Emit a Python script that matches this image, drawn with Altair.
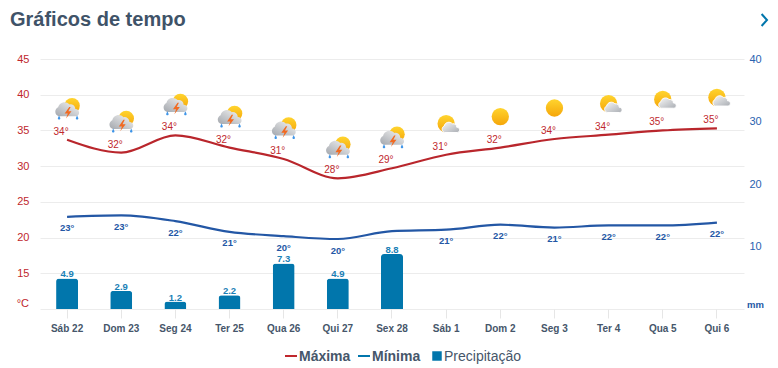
import altair as alt
import pandas as pd

days = ["Sáb 22","Dom 23","Seg 24","Ter 25","Qua 26","Qui 27","Sex 28","Sáb 1","Dom 2","Seg 3","Ter 4","Qua 5","Qui 6"]
max_curve = [33.7,31.9,34.3,32.6,31.0,28.3,29.7,31.6,32.6,33.8,34.4,35.0,35.3]
min_curve = [22.9,23.1,22.3,20.8,20.2,19.8,20.9,21.1,21.8,21.4,21.7,21.7,22.1]
max_labels = ["34°","32°","34°","32°","31°","28°","29°","31°","32°","34°","34°","35°","35°"]
min_labels = ["23°","23°","22°","21°","20°","20°","","21°","22°","21°","22°","22°","22°"]
rain = [4.9,2.9,1.2,2.2,7.3,4.9,8.8,None,None,None,None,None,None]
icons = ["storm"]*7 + ["partly","sun","sun","partly","partly","partly"]

FONT = "Liberation Sans"
RED = "#c0272d"
BLUE = "#2357a5"
BAR = "#0176ac"
GREY = "#46566a"

df = pd.DataFrame(dict(day=days, hi=max_curve, lo=min_curve, hil=max_labels, lol=min_labels, rain=rain, icon=icons))
df["rainl"] = df["rain"].map(lambda v: "" if pd.isna(v) else f"{v:.1f}")

X = alt.X("day:N", sort=days, title=None,
          scale=alt.Scale(paddingInner=0.59, paddingOuter=0.295),
          axis=alt.Axis(labelAngle=0, labelFont=FONT, labelFontSize=10, labelFontWeight="bold", labelColor=GREY,
                        tickColor="#e6e6e6", tickSize=9, domain=False, labelPadding=5, grid=False))
TS = alt.Scale(domain=[10, 45])
RS = alt.Scale(domain=[0, 40])
Yhi = alt.Y("hi:Q", scale=TS, axis=None)
Ylo = alt.Y("lo:Q", scale=TS, axis=None)
Yr = alt.Y("rain:Q", scale=RS, axis=None)

left = alt.Chart(df).mark_line(opacity=0).encode(
    x=X,
    y=alt.Y("hi:Q", scale=TS, title=None,
            axis=alt.Axis(values=[10,15,20,25,30,35,40,45], labelExpr="datum.value==10?'':datum.label",
                          labelFont=FONT, labelFontSize=11, labelColor=RED, gridColor="#ececec", grid=True,
                          domain=False, ticks=False, labelPadding=11)))
right = alt.Chart(df).mark_bar(color=BAR, cornerRadiusTopLeft=3, cornerRadiusTopRight=3, size=22).encode(
    x=X,
    y=alt.Y("rain:Q", scale=RS, title=None,
            axis=alt.Axis(orient="right", values=[10,20,30,40], labelFont=FONT, labelFontSize=11, labelColor="#2a62b0",
                          grid=False, domain=False, ticks=False, labelPadding=5)))
bar_text = alt.Chart(df).mark_text(font=FONT, fontSize=9.5, fontWeight="bold", color="#1a80b6", dy=-4).encode(
    x=X, y=Yr, text="rainl:N")
line_hi = alt.Chart(df).mark_line(color="#b9262c", strokeWidth=2.2, interpolate="monotone").encode(x=X, y=Yhi)
line_lo = alt.Chart(df).mark_line(color=BLUE, strokeWidth=2.2, interpolate="monotone").encode(x=X, y=Ylo)
text_hi = alt.Chart(df).mark_text(font=FONT, fontSize=10, color=RED, dy=-8, dx=-6).encode(x=X, y=Yhi, text="hil:N")
text_lo = alt.Chart(df).mark_text(font=FONT, fontSize=9.5, fontWeight="bold", color=BLUE, dy=11.5).encode(x=X, y=Ylo, text="lol:N")

sun_grad = alt.Gradient(gradient="linear", x1=0, y1=0, x2=0, y2=1,
                        stops=[alt.GradientStop(offset=0, color="#ffd42e"), alt.GradientStop(offset=1, color="#f5a60a")])
cloud_grad = alt.Gradient(gradient="linear", x1=0, y1=0, x2=1, y2=1,
                          stops=[alt.GradientStop(offset=0, color="#f7f7f7"), alt.GradientStop(offset=1, color="#a9adb3")])
storm_grad = alt.Gradient(gradient="linear", x1=0, y1=1, x2=1, y2=0,
                          stops=[alt.GradientStop(offset=0, color="#a3a7ad"), alt.GradientStop(offset=1, color="#f6f6f6")])
CLOUD = "M-0.75,0.55 A0.4,0.4 0 0 1 -0.8,-0.2 A0.55,0.55 0 0 1 0.15,-0.45 A0.4,0.4 0 0 1 0.65,-0.05 A0.3,0.3 0 0 1 0.7,0.55 Z"
BOLT = "M0.2,-1 L-0.6,0.15 L-0.05,0.15 L-0.35,1 L0.6,-0.25 L0.05,-0.25 L0.45,-1 Z"
DROP = "M0,-1 L0.6,0.3 A0.6,0.6 0 1 1 -0.6,0.3 Z"

def sym(kind, fill, size, dx, dy, shape="circle", stroke=None):
    kw = {"stroke": stroke, "strokeWidth": 1} if stroke else {"strokeWidth": 0}
    return alt.Chart(df).transform_filter(f"datum.icon=='{kind}'").mark_point(
        shape=shape, filled=True, fill=fill, opacity=1, size=size, xOffset=dx, yOffset=dy, **kw
    ).encode(x=X, y=Yhi)

icon_layers = [
    sym("storm", sun_grad, 240, 5, -34),
    sym("storm", storm_grad, 560, 0.5, -30, CLOUD),
    sym("storm", "#f26a21", 130, 1, -27, BOLT),
    sym("storm", "#3f95e8", 18, -8, -22, DROP),
    sym("storm", "#3f95e8", 18, 10, -22, DROP),
    sym("sun", sun_grad, 300, 0, -31),
    sym("partly", sun_grad, 300, 0, -31),
    sym("partly", cloud_grad, 300, 5, -27, CLOUD, "#ffffff"),
]

def lg_text(txt, x, weight):
    return alt.Chart(df.head(1)).mark_text(text=txt, font=FONT, fontSize=14, fontWeight=weight, color=GREY,
                                           align="left", baseline="middle").encode(x=alt.value(x), y=alt.value(298))

legend = [
    alt.Chart(df.head(1)).mark_rule(color="#c0272d", strokeWidth=2).encode(x=alt.value(245), x2=alt.value(257), y=alt.value(297)),
    lg_text("Máxima", 259, "bold"),
    alt.Chart(df.head(1)).mark_rule(color=BAR, strokeWidth=2).encode(x=alt.value(318), x2=alt.value(330), y=alt.value(297)),
    lg_text("Mínima", 332, "bold"),
    alt.Chart(df.head(1)).mark_square(color=BAR, size=90, opacity=1).encode(x=alt.value(397), y=alt.value(297)),
    lg_text("Precipitação", 404, "normal"),
]
title = alt.Chart(df.head(1)).mark_text(text="Gráficos de tempo", font=FONT, fontSize=20, fontWeight="bold", color="#3f5368",
                                        align="left", baseline="alphabetic").encode(x=alt.value(-30), y=alt.value(-33))
unit_c = alt.Chart(df.head(1)).mark_text(text="°C", font=FONT, fontSize=11, color=RED, align="right", baseline="middle").encode(
    x=alt.value(-11), y=alt.value(245))
unit_mm = alt.Chart(df.head(1)).mark_text(text="mm", font=FONT, fontSize=9.5, fontWeight="bold", color=BLUE, align="left", baseline="middle").encode(
    x=alt.value(707), y=alt.value(246))
chevron = alt.Chart(df.head(1)).mark_point(shape="M-0.4,-1 L0.5,0 L-0.4,1", filled=False, color=BAR, strokeWidth=2, size=144, opacity=1).encode(
    x=alt.value(724), y=alt.value(-39))

chart = alt.layer(left, right, bar_text, line_hi, line_lo, *icon_layers, text_hi, text_lo, title, unit_c, unit_mm, chevron, *legend
).resolve_scale(y="independent").resolve_axis(y="independent").properties(
    width=704, height=250,
    padding={"left": 32, "top": 51, "right": 26, "bottom": 55},
    autosize=alt.AutoSizeParams(type="none"),
).configure_view(stroke=None)

chart.save("out.html", embed_options={"renderer": "svg", "actions": False})
